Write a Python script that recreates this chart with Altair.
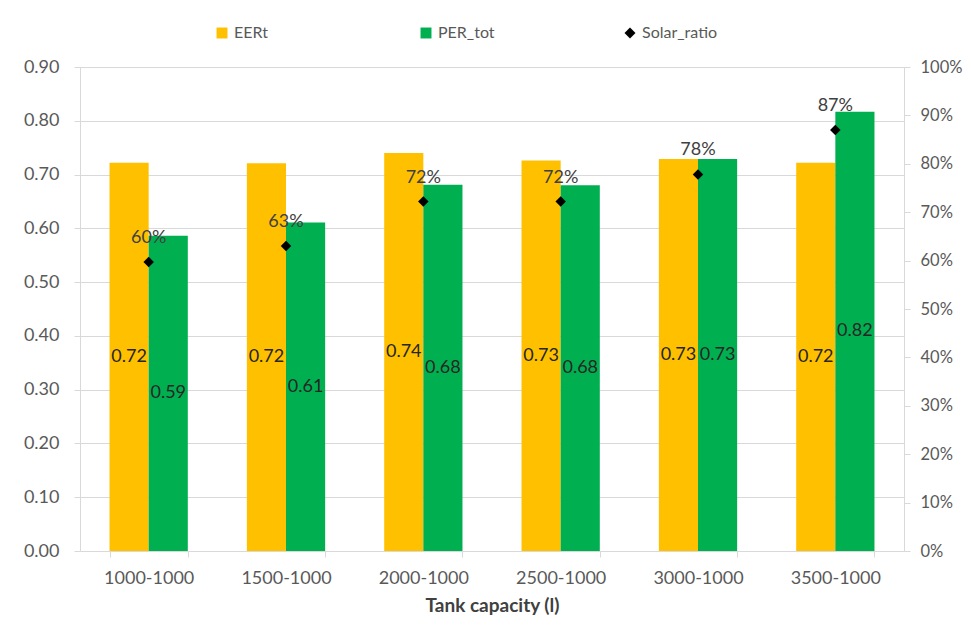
import altair as alt
import pandas as pd

categories = ["1000-1000", "1500-1000", "2000-1000", "2500-1000", "3000-1000", "3500-1000"]
eert = [0.722, 0.721, 0.740, 0.726, 0.729, 0.722]
per_tot = [0.586, 0.611, 0.681, 0.680, 0.729, 0.817]
solar_ratio = [0.597, 0.630, 0.722, 0.722, 0.778, 0.870]

series_names = ["EERt", "PER_tot", "Solar_ratio"]
series_colors = ["#FFC000", "#00B050", "#000000"]
series_shapes = ["square", "square", "diamond"]
left_ticks = [0.0, 0.1, 0.2, 0.3, 0.4, 0.5, 0.6, 0.7, 0.8, 0.9]
right_ticks = [0.0, 0.1, 0.2, 0.3, 0.4, 0.5, 0.6, 0.7, 0.8, 0.9, 1.0]

FONT = "Lato"
GRID = "#d9d9d9"
LABEL = "#595959"

bars_df = pd.DataFrame(
    [{"cat": c, "series": "EERt", "value": v} for c, v in zip(categories, eert)]
    + [{"cat": c, "series": "PER_tot", "value": v} for c, v in zip(categories, per_tot)]
)
bars_df["mid"] = bars_df["value"] / 2
solar_df = pd.DataFrame({"cat": categories, "series": "Solar_ratio", "value": solar_ratio})

x_enc = alt.X(
    "cat:N",
    sort=categories,
    scale=alt.Scale(paddingInner=0.43, paddingOuter=0.215),
    axis=alt.Axis(
        title="Tank capacity (l)",
        labelAngle=0,
        tickBand="extent",
        grid=False,
        domainColor=GRID,
        tickColor=GRID,
        tickSize=6,
        labelPadding=12,
        labelFontSize=18,
        labelColor=LABEL,
        titleFontSize=19,
        titleFontWeight="bold",
        titleColor="#404040",
        titlePadding=9,
    ),
)
x_off = alt.XOffset("series:N", sort=["EERt", "PER_tot"], scale=alt.Scale(paddingInner=0))

color_scale = alt.Scale(domain=series_names, range=series_colors)
shape_scale = alt.Scale(domain=series_names, range=series_shapes)

y_left = alt.Scale(domain=[0, 0.9])
left_axis = alt.Axis(
    values=left_ticks,
    format=".2f",
    title=None,
    grid=True,
    gridColor=GRID,
    domainColor=GRID,
    tickColor=GRID,
    tickSize=6,
    labelPadding=15,
    labelFontSize=18,
    labelColor=LABEL,
)

bars = alt.Chart(bars_df).mark_bar().encode(
    x=x_enc,
    xOffset=x_off,
    y=alt.Y("value:Q", scale=y_left, axis=left_axis),
    color=alt.Color("series:N", scale=color_scale, legend=alt.Legend(title=None)),
)
bar_text = alt.Chart(bars_df).mark_text(
    fontSize=18, color="#262626", baseline="middle", align="center"
).encode(
    x=x_enc,
    xOffset=x_off,
    y=alt.Y("mid:Q", scale=y_left, axis=left_axis),
    text=alt.Text("value:Q", format=".2f"),
)

y_right = alt.Scale(domain=[0, 1])
right_axis = alt.Axis(
    orient="right",
    values=right_ticks,
    format=".0%",
    title=None,
    grid=False,
    domainColor=GRID,
    tickColor=GRID,
    tickSize=6,
    labelPadding=10,
    labelFontSize=16.5,
    labelColor=LABEL,
)
points = alt.Chart(solar_df).mark_point(filled=True, size=110, opacity=1).encode(
    x=x_enc,
    y=alt.Y("value:Q", scale=y_right, axis=right_axis),
    color=alt.Color("series:N", scale=color_scale, legend=alt.Legend(title=None)),
    shape=alt.Shape("series:N", scale=shape_scale, legend=alt.Legend(title=None)),
)
pct_text = alt.Chart(solar_df).mark_text(
    fontSize=18, color="#404040", baseline="middle", align="center", dy=-24
).encode(
    x=x_enc,
    y=alt.Y("value:Q", scale=y_right, axis=right_axis),
    text=alt.Text("value:Q", format=".0%"),
)

left = alt.layer(bars, bar_text)
right = alt.layer(points, pct_text)

chart = (
    alt.layer(left, right)
    .resolve_scale(y="independent")
    .properties(
        width=824,
        height=484,
        autosize=alt.AutoSizeParams(type="none"),
        padding={"left": 72, "top": 59, "right": 59, "bottom": 77},
    )
    .configure(font=FONT)
    .configure_view(stroke=None)
    .configure_legend(
        orient="none",
        legendX=134,
        legendY=-42,
        direction="horizontal",
        labelFontSize=16,
        labelColor=LABEL,
        symbolSize=120,
        symbolStrokeWidth=0,
        gridAlign="all",
        columnPadding=108,
        labelOffset=4,
    )
)

chart.save("out.html", embed_options={"renderer": "svg", "actions": False})
